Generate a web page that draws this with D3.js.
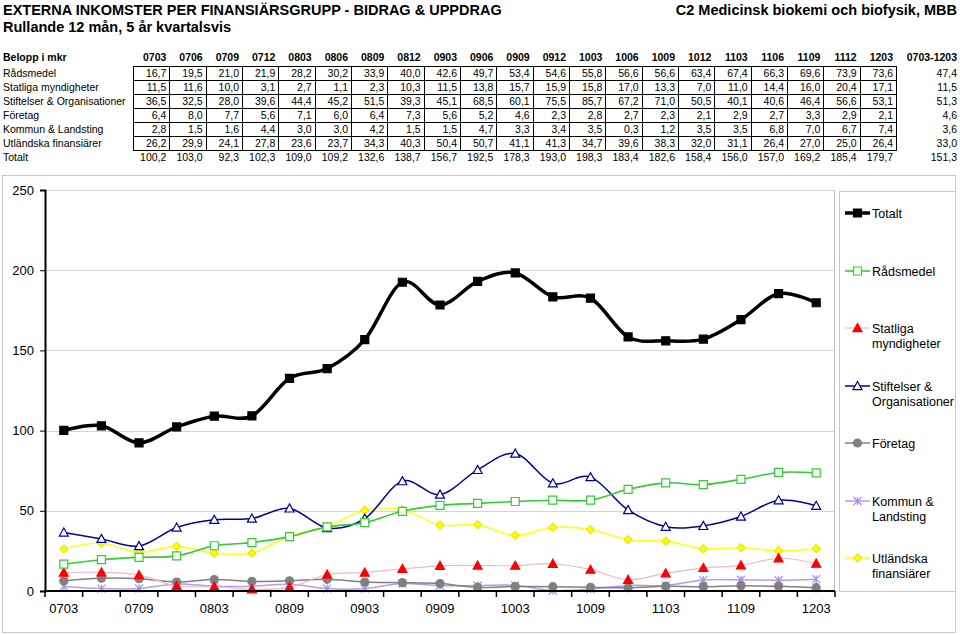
<!DOCTYPE html>
<html>
<head>
<meta charset="utf-8">
<script src="https://cdn.jsdelivr.net/npm/d3@7"></script>
<style>
  body { margin: 0; background: #fff; }
  svg { font-family: "Liberation Sans", Arial, sans-serif; }
</style>
</head>
<body>
<div id="chart"></div>
<script>
// quarters (rolling 12 months)
var periods = ["0703","0706","0709","0712","0803","0806","0809","0812","0903","0906","0909",
  "0912","1003","1006","1009","1012","1103","1106","1109","1112","1203"];

var radsmedel  = [16.7,19.5,21.0,21.9,28.2,30.2,33.9,40.0,42.6,49.7,53.4,54.6,55.8,56.6,56.6,63.4,67.4,66.3,69.6,73.9,73.6];
var statliga   = [11.5,11.6,10.0,3.1,2.7,1.1,2.3,10.3,11.5,13.8,15.7,15.9,15.8,17.0,13.3,7.0,11.0,14.4,16.0,20.4,17.1];
var stiftelser = [36.5,32.5,28.0,39.6,44.4,45.2,51.5,39.3,45.1,68.5,60.1,75.5,85.7,67.2,71.0,50.5,40.1,40.6,46.4,56.6,53.1];
var foretag    = [6.4,8.0,7.7,5.6,7.1,6.0,6.4,7.3,5.6,5.2,4.6,2.3,2.8,2.7,2.3,2.1,2.9,2.7,3.3,2.9,2.1];
var kommun     = [2.8,1.5,1.6,4.4,3.0,3.0,4.2,1.5,1.5,4.7,3.3,3.4,3.5,0.3,1.2,3.5,3.5,6.8,7.0,6.7,7.4];
var utlandska  = [26.2,29.9,24.1,27.8,23.6,23.7,34.3,40.3,50.4,50.7,41.1,41.3,34.7,39.6,38.3,32.0,31.1,26.4,27.0,25.0,26.4];
var totalt     = [100.2,103.0,92.3,102.3,109.0,109.2,132.6,138.7,156.7,192.5,178.3,193.0,198.3,183.4,182.6,158.4,156.0,157.0,169.2,185.4,179.7];

// averages 0703-1203 (last table column)
var summaryLabel = "0703-1203";
var summary = [47.4, 11.5, 51.3, 4.6, 3.6, 33.0, 151.3];

var yTicks = [0, 50, 100, 150, 200, 250];

// table rows in printed order
var tableRows = [
  {name: "Rådsmedel", values: radsmedel},
  {name: "Statliga myndigheter", values: statliga},
  {name: "Stiftelser & Organisationer", values: stiftelser},
  {name: "Företag", values: foretag},
  {name: "Kommun & Landsting", values: kommun},
  {name: "Utländska finansiärer", values: utlandska}
];

// chart series (legend order)
var series = [
  {name: ["Totalt"], values: totalt, color: "#000000", width: 3.5, marker: "square", fill: "#000000", stroke: "#000000", size: 8},
  {name: ["Rådsmedel"], values: radsmedel, color: "#33cc33", width: 1.6, marker: "square", fill: "#ffffff", stroke: "#33cc33", size: 8},
  {name: ["Statliga", "myndigheter"], values: statliga, color: "#e8bccb", width: 1.2, marker: "triangle", fill: "#ff0000", stroke: "#ff0000", size: 9},
  {name: ["Stiftelser &", "Organisationer"], values: stiftelser, color: "#000099", width: 1.5, marker: "triangle", fill: "#ffffff", stroke: "#000099", size: 9},
  {name: ["Företag"], values: foretag, color: "#808080", width: 1.5, marker: "circle", fill: "#808080", stroke: "#808080", size: 8},
  {name: ["Kommun &", "Landsting"], values: kommun, color: "#b49cf0", width: 1.5, marker: "star", fill: "none", stroke: "#a98be8", size: 8},
  {name: ["Utländska", "finansiärer"], values: utlandska, color: "#ffff22", width: 1.6, marker: "diamond", fill: "#ffff00", stroke: "#e8e800", size: 8}
];

var svgWidth = 960;
var svgHeight = 635;

var fmt = d3.formatLocale({decimal: ",", thousands: " ", grouping: [3], currency: ["", ""]}).format(".1f");

var svg = d3.select("#chart")
  .append("svg")
  .attr("width", svgWidth)
  .attr("height", svgHeight);

// titles
svg.append("text").attr("x", 3).attr("y", 15)
  .attr("font-size", "14.5px").attr("font-weight", "bold")
  .text("EXTERNA INKOMSTER PER FINANSIÄRSGRUPP - BIDRAG & UPPDRAG");
svg.append("text").attr("x", 3).attr("y", 32)
  .attr("font-size", "14.5px").attr("font-weight", "bold")
  .text("Rullande 12 mån, 5 år kvartalsvis");
svg.append("text").attr("x", 957).attr("y", 15)
  .attr("font-size", "14.5px").attr("font-weight", "bold")
  .attr("text-anchor", "end")
  .text("C2 Medicinsk biokemi och biofysik, MBB");

// ---- table ----
var colScale = d3.scaleBand().domain(periods).range([133, 896]);
var tableTop = 66;
var rowH = 14;

var table = svg.append("g").attr("font-size", "10.5px");

table.append("text").attr("x", 3).attr("y", 61)
  .attr("font-weight", "bold").text("Belopp i mkr");

table.selectAll(".hdr")
  .data(periods)
  .enter()
  .append("text")
  .attr("x", d => colScale(d) + colScale.bandwidth() - 3)
  .attr("y", 61)
  .attr("text-anchor", "end")
  .attr("font-weight", "bold")
  .text(d => d);

table.append("text").attr("x", 957).attr("y", 61)
  .attr("text-anchor", "end").attr("font-weight", "bold")
  .text(summaryLabel);

tableRows.forEach(function(row, i) {
  var y0 = tableTop + i * rowH;
  table.append("text").attr("x", 3).attr("y", y0 + 11).text(row.name);
  table.selectAll(".r" + i)
    .data(row.values)
    .enter()
    .append("text")
    .attr("x", (d, j) => colScale(periods[j]) + colScale.bandwidth() - 3)
    .attr("y", y0 + 11)
    .attr("text-anchor", "end")
    .text(d => fmt(d));
  table.append("text").attr("x", 957).attr("y", y0 + 11)
    .attr("text-anchor", "end").text(fmt(summary[i]));
});

// totals row (no borders)
var totY = tableTop + tableRows.length * rowH;
table.append("text").attr("x", 3).attr("y", totY + 11).text("Totalt");
table.selectAll(".tot")
  .data(totalt)
  .enter()
  .append("text")
  .attr("x", (d, j) => colScale(periods[j]) + colScale.bandwidth() - 3)
  .attr("y", totY + 11)
  .attr("text-anchor", "end")
  .text(d => fmt(d));
table.append("text").attr("x", 957).attr("y", totY + 11)
  .attr("text-anchor", "end").text(fmt(summary[6]));

// cell borders
var grid = svg.append("g").attr("stroke", "#000").attr("stroke-width", 1).attr("fill", "none");
grid.append("rect")
  .attr("x", 133.5).attr("y", tableTop + 0.5)
  .attr("width", 896 - 133).attr("height", tableRows.length * rowH);
periods.forEach(function(p) {
  grid.append("line")
    .attr("x1", Math.round(colScale(p) + colScale.bandwidth()) + 0.5)
    .attr("x2", Math.round(colScale(p) + colScale.bandwidth()) + 0.5)
    .attr("y1", tableTop).attr("y2", tableTop + tableRows.length * rowH);
});
d3.range(1, tableRows.length).forEach(function(i) {
  grid.append("line")
    .attr("x1", 133).attr("x2", 896)
    .attr("y1", tableTop + i * rowH + 0.5).attr("y2", tableTop + i * rowH + 0.5);
});

// ---- chart ----
// outer frame
svg.append("rect")
  .attr("x", 2.5).attr("y", 175.5)
  .attr("width", 953).attr("height", 457)
  .attr("fill", "none").attr("stroke", "#c8c8c8").attr("stroke-width", 1);

var x = d3.scaleBand().domain(periods).range([45, 835]);
var y = d3.scaleLinear().domain([0, 250]).range([591, 190]);

var plot = svg.append("g");

// gridlines
plot.selectAll(".gl")
  .data(yTicks.filter(d => d > 0))
  .enter()
  .append("line")
  .attr("x1", 45).attr("x2", 835)
  .attr("y1", d => Math.round(y(d)) + 0.5)
  .attr("y2", d => Math.round(y(d)) + 0.5)
  .attr("stroke", "#d4d4d4");

// right border of plot
plot.append("line")
  .attr("x1", 834.5).attr("x2", 834.5)
  .attr("y1", 190).attr("y2", 591)
  .attr("stroke", "#bdbdbd");

var line = d3.line()
  .x((d, i) => x(periods[i]) + x.bandwidth() / 2)
  .y(d => y(d))
  .curve(d3.curveCardinal.tension(0));

function markerPath(type, s) {
  var h = s / 2;
  if (type === "square") return `M${-h},${-h}H${h}V${h}H${-h}Z`;
  if (type === "triangle") return `M0,${-h}L${h},${h * 0.8}H${-h}Z`;
  if (type === "diamond") return `M0,${-h}L${h},0L0,${h}L${-h},0Z`;
  if (type === "circle") return d3.symbol(d3.symbolCircle, Math.PI * h * h)();
  if (type === "star") return `M${-h},${-h}L${h},${h}M${h},${-h}L${-h},${h}M0,${-h}V${h}`;
  return "";
}

// draw series from last to first so Totalt sits on top
series.slice().reverse().forEach(function(s) {
  var g = plot.append("g");
  g.append("path")
    .datum(s.values)
    .attr("d", line)
    .attr("fill", "none")
    .attr("stroke", s.color)
    .attr("stroke-width", s.width);
  g.selectAll("path.m")
    .data(s.values)
    .enter()
    .append("path")
    .attr("class", "m")
    .attr("transform", (d, i) => `translate(${x(periods[i]) + x.bandwidth() / 2},${y(d)})`)
    .attr("d", markerPath(s.marker, s.size))
    .attr("fill", s.fill)
    .attr("stroke", s.stroke)
    .attr("stroke-width", s.marker === "star" ? 1.2 : 1.2);
});

// y axis
var yAxis = d3.axisLeft(y).tickValues(yTicks).tickSize(5).tickPadding(6).tickFormat(d3.format("d"));
var yAxisG = svg.append("g")
  .attr("transform", "translate(45,0)")
  .call(yAxis);
yAxisG.select(".domain").attr("stroke-width", 2);
yAxisG.selectAll("text").attr("font-size", "13px").attr("fill", "#000");

// x axis: ticks between categories, labels on every other quarter
var xAxisG = svg.append("g").attr("transform", "translate(0,591)");
xAxisG.append("line")
  .attr("x1", 44).attr("x2", 835).attr("y1", 0).attr("y2", 0)
  .attr("stroke", "#000").attr("stroke-width", 2);
xAxisG.selectAll(".tk")
  .data(d3.range(periods.length + 1))
  .enter()
  .append("line")
  .attr("x1", i => 45 + i * x.step())
  .attr("x2", i => 45 + i * x.step())
  .attr("y1", 0).attr("y2", 6)
  .attr("stroke", "#000").attr("stroke-width", 1.5);
xAxisG.selectAll(".lb")
  .data(periods.filter((p, i) => i % 2 === 0))
  .enter()
  .append("text")
  .attr("x", d => x(d) + x.bandwidth() / 2)
  .attr("y", 22)
  .attr("text-anchor", "middle")
  .attr("font-size", "13px")
  .text(d => d);

// legend
var legend = svg.append("g");
legend.append("rect")
  .attr("x", 839.5).attr("y", 191.5)
  .attr("width", 116).attr("height", 400)
  .attr("fill", "#fff").attr("stroke", "#c8c8c8");

var legendY = [213, 271, 328, 386, 443, 501, 558];
series.forEach(function(s, i) {
  var ly = legendY[i];
  var g = legend.append("g");
  g.append("line")
    .attr("x1", 845).attr("x2", 870)
    .attr("y1", ly).attr("y2", ly)
    .attr("stroke", s.color).attr("stroke-width", s.width);
  g.append("path")
    .attr("transform", `translate(857.5,${ly})`)
    .attr("d", markerPath(s.marker, s.size))
    .attr("fill", s.fill)
    .attr("stroke", s.stroke)
    .attr("stroke-width", 1.2);
  s.name.forEach(function(t, k) {
    g.append("text")
      .attr("x", 872)
      .attr("y", ly + 4.5 + k * 15)
      .attr("font-size", "12.5px")
      .text(t);
  });
});
</script>
</body>
</html>
